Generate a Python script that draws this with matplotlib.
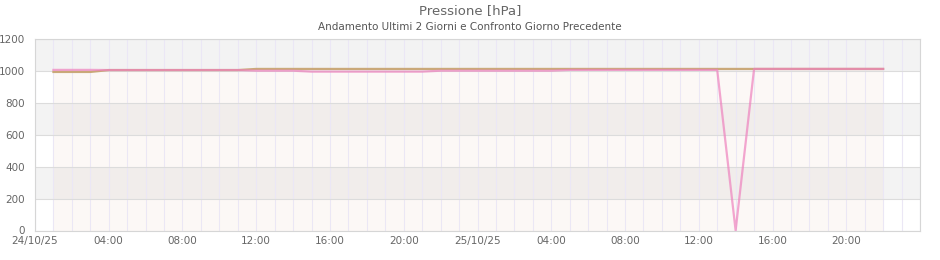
import numpy as np
import matplotlib
matplotlib.use("Agg")
import matplotlib.pyplot as plt
import matplotlib.dates as mdates
from datetime import datetime, timedelta

# DATA (hourly, 24/10/25 01:00 -> 25/10/25 22:00)
start = datetime(2025, 10, 24, 1, 0)
pressione = [1008, 1008, 1008,
             1007, 1007, 1007, 1007, 1007, 1007, 1007, 1007,
             1003, 1003, 1003,
             997, 997, 997, 997, 997, 997, 997,
             1003, 1003, 1003, 1003, 1003, 1003, 1003,
             1008, 1008, 1008, 1008, 1008, 1008, 1008, 1008, 1008,
             0,
             1014, 1014, 1014, 1014, 1014, 1014, 1014, 1014]
giorno_prec = [995, 995, 995,
               1007, 1007, 1007, 1007, 1007, 1007, 1007, 1007] + [1014] * 35
times = [start + timedelta(hours=i) for i in range(len(pressione))]

y_ticks = [0, 200, 400, 600, 800, 1000, 1200]
grey_bands = [(200, 400), (600, 800), (1000, 1200)]
x0 = datetime(2025, 10, 24)
x_ticks = [x0 + timedelta(hours=h) for h in range(0, 48, 4)]

TXT = "#666666"

fig = plt.figure(figsize=(9.4, 2.6), dpi=100)
ax = fig.add_axes([35 / 940, 29.5 / 260, 885 / 940, 191.2 / 260])

for lo, hi in grey_bands:
    ax.axhspan(lo, hi, color="#f3f3f3", zorder=0.1, lw=0)

# light fill under the comparison series
ax.fill_between(times, giorno_prec, 0, color="#dcae98", alpha=0.08, lw=0, zorder=0.2)

ax.plot(times, giorno_prec, color="#c8a573", lw=1.6, alpha=0.95, zorder=2)
ax.plot(times, pressione, color="#ee82be", lw=1.6, alpha=0.7, zorder=3)

ax.set_xlim(x0, x0 + timedelta(hours=48))
ax.set_ylim(0, 1200)
ax.set_yticks(y_ticks)

ax.set_xticks(x_ticks)
ax.xaxis.set_minor_locator(mdates.HourLocator())


def fmt(x, pos=None):
    d = mdates.num2date(x)
    if d.hour == 0:
        return d.strftime("%d/%m/%y")
    return d.strftime("%H:%M")


ax.xaxis.set_major_formatter(plt.FuncFormatter(fmt))

ax.set_axisbelow(True)
ax.grid(axis="x", which="both", color="#ebe7f5", lw=0.8)
ax.grid(axis="y", which="major", color="#dcdcdc", lw=0.8)

ax.tick_params(axis="both", which="both", length=0, labelsize=7.5, colors=TXT)
ax.tick_params(axis="y", pad=7)
ax.tick_params(axis="x", pad=4)
for s in ax.spines.values():
    s.set_color("#d6d6d6")
    s.set_linewidth(0.8)

fig.text(0.5, 1 - 11 / 260, "Pressione [hPa]", ha="center", va="center", fontsize=9.5, color=TXT)
fig.text(0.5, 1 - 27 / 260, "Andamento Ultimi 2 Giorni e Confronto Giorno Precedente",
         ha="center", va="center", fontsize=7.5, color="#555555")

fig.savefig("out.png", dpi=100)
